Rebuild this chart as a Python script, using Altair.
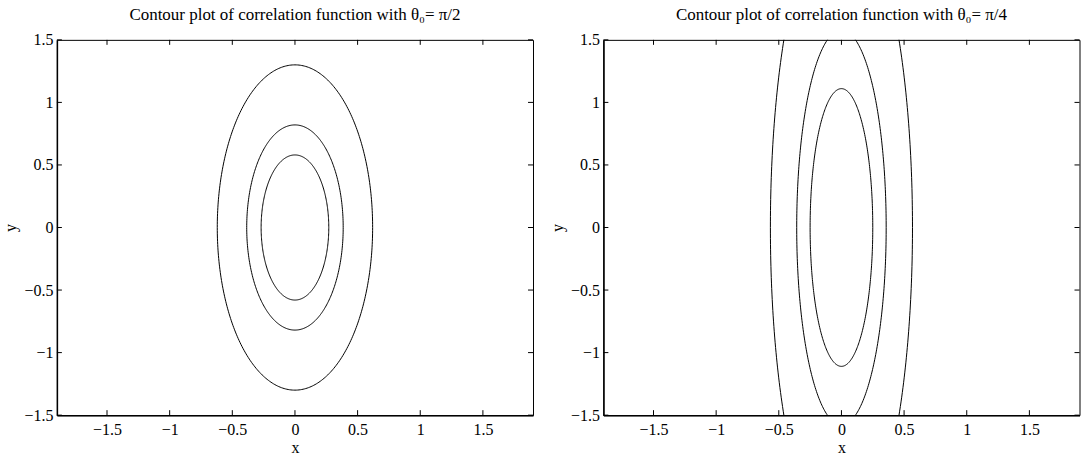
import numpy as np
import pandas as pd
import altair as alt

# ---- data ----
xticks = [-1.5, -1, -0.5, 0, 0.5, 1, 1.5]
yticks = [-1.5, -1, -0.5, 0, 0.5, 1, 1.5]
x_domain = [-1.9, 1.9]
y_domain = [-1.5, 1.5]

# contour levels: semi-axis along x (a) and along y (b)
left_a = [0.62, 0.385, 0.27]
left_b = [1.30, 0.82, 0.58]
right_a = [0.567, 0.357, 0.25]
right_b = [2.56, 1.58, 1.11]

titles = [
    "Contour plot of correlation function with θ₀= π/2",
    "Contour plot of correlation function with θ₀= π/4",
]

W, H = 477, 376
TICK = 5
FONT = "Liberation Serif"
LFS = 16   # tick label / axis title size
TFS = 17   # panel title size


def contour_df(a_list, b_list):
    t = np.linspace(0, 2 * np.pi, 361)
    frames = []
    for k, (a, b) in enumerate(zip(a_list, b_list)):
        frames.append(pd.DataFrame({
            "x": a * np.cos(t), "y": b * np.sin(t),
            "level": k, "i": np.arange(len(t))}))
    return pd.concat(frames, ignore_index=True)


xaxis = alt.Axis(values=xticks, title="x", ticks=False, grid=False, format="~g",
                 domain=True, domainColor="black", domainWidth=1.5,
                 labelFont=FONT, labelFontSize=LFS, labelColor="black", labelPadding=6,
                 titleFont=FONT, titleFontSize=LFS, titleFontWeight="normal",
                 titleColor="black", titlePadding=2)
yaxis = alt.Axis(values=yticks, title="y", ticks=False, grid=False, format="~g",
                 domain=True, domainColor="black", domainWidth=1.5,
                 labelFont=FONT, labelFontSize=LFS, labelColor="black", labelPadding=4,
                 titleFont=FONT, titleFontSize=LFS, titleFontWeight="normal",
                 titleColor="black", titlePadding=5)


def panel(a_list, b_list, title):
    xs = alt.Scale(domain=x_domain, nice=False, zero=False)
    ys = alt.Scale(domain=y_domain, nice=False, zero=False)
    X = lambda f: alt.X(f, type="quantitative", scale=xs, axis=xaxis)
    Y = lambda f: alt.Y(f, type="quantitative", scale=ys, axis=yaxis)

    lines = alt.Chart(contour_df(a_list, b_list)).mark_line(
        clip=True, color="black", strokeWidth=1
    ).encode(x=X("x"), y=Y("y"), detail="level:N", order="i:Q")

    tx = pd.DataFrame({"xt": xticks})
    ty = pd.DataFrame({"yt": yticks})
    rule = dict(color="black", strokeWidth=1)
    bottom = alt.Chart(tx).mark_rule(**rule).encode(
        x=X("xt"), y=alt.value(H), y2=alt.value(H - TICK))
    top = alt.Chart(tx).mark_rule(**rule).encode(
        x=X("xt"), y=alt.value(0), y2=alt.value(TICK))
    left = alt.Chart(ty).mark_rule(**rule).encode(
        y=Y("yt"), x=alt.value(0), x2=alt.value(TICK))
    right = alt.Chart(ty).mark_rule(**rule).encode(
        y=Y("yt"), x=alt.value(W), x2=alt.value(W - TICK))

    head = alt.Chart(pd.DataFrame({"t": [title]})).mark_text(
        font=FONT, fontSize=TFS, color="black", align="center", baseline="alphabetic"
    ).encode(text="t:N", x=alt.value(W / 2), y=alt.value(-19.5))

    return alt.layer(lines, bottom, top, left, right, head).properties(
        width=W, height=H)


chart = alt.hconcat(
    panel(left_a, left_b, titles[0]),
    panel(right_a, right_b, titles[1]),
    spacing=70.5, bounds="flush",
).properties(
    padding={"left": 2, "top": 5.5, "right": 0, "bottom": 0},
    background="white",
).configure_view(stroke="black", strokeWidth=1)

chart.save("out.html", embed_options={"renderer": "svg", "actions": False})
